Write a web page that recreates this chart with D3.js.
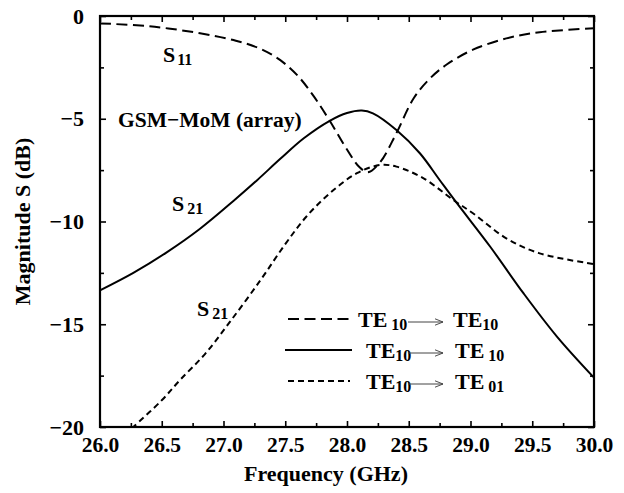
<!DOCTYPE html>
<html><head><meta charset="utf-8">
<script src="https://cdn.jsdelivr.net/npm/d3@7"></script>
<style>
html,body{margin:0;padding:0;background:#fff;}
text{font-family:"Liberation Serif","Times New Roman",serif;font-weight:bold;fill:#000;}
</style></head>
<body><svg id="c" width="624" height="493"></svg>
<script>
// ---- data ----
const s11Freq = [26.0, 26.4, 26.81, 27.1, 27.3, 27.46, 27.6, 27.73, 27.86, 28.0, 28.1, 28.17, 28.27, 28.4, 28.54, 28.67, 28.81, 29.02, 29.29, 29.56, 30.0];
const s11Val  = [-0.36, -0.5, -0.84, -1.2, -1.6, -2.15, -2.9, -3.9, -5.1, -6.5, -7.35, -7.6, -7.1, -5.7, -4.0, -3.05, -2.35, -1.64, -1.09, -0.79, -0.6];

const s21Freq = [26.0, 26.27, 26.54, 26.81, 27.08, 27.27, 27.46, 27.65, 27.86, 28.0, 28.12, 28.21, 28.4, 28.59, 28.75, 28.89, 29.16, 29.43, 29.7, 30.0];
const s21Val  = [-13.35, -12.5, -11.5, -10.35, -9.0, -8.0, -6.95, -5.95, -5.1, -4.72, -4.6, -4.74, -5.55, -6.68, -7.98, -9.11, -11.23, -13.5, -15.6, -17.6];

const s21xFreq = [26.2, 26.27, 26.5, 26.65, 26.85, 27.05, 27.3, 27.5, 27.67, 27.86, 28.08, 28.27, 28.4, 28.62, 28.86, 29.02, 29.29, 29.56, 30.0];
const s21xVal  = [-20.4, -20.0, -18.7, -17.7, -16.45, -14.9, -12.85, -11.1, -9.77, -8.63, -7.65, -7.25, -7.33, -7.9, -8.95, -9.6, -10.82, -11.55, -12.07];

const xTicks = [26.0, 26.5, 27.0, 27.5, 28.0, 28.5, 29.0, 29.5, 30.0];
const xMinor = [26.25, 26.75, 27.25, 27.75, 28.25, 28.75, 29.25, 29.75];
const yTicks = [0, -5, -10, -15, -20];
const yMinor = [-2.5, -7.5, -12.5, -17.5];

// ---- layout ----
const L = 100, R = 594, T = 16, B = 427;
const svg = d3.select("#c");
const x = d3.scaleLinear().domain([26, 30]).range([L, R]);
const y = d3.scaleLinear().domain([-20, 0]).range([B, T]);

svg.append("clipPath").attr("id","clip").append("rect")
  .attr("x", L).attr("y", T).attr("width", R-L).attr("height", B-T);

const fmtX = d3.format(".1f");
const fmtY = d => d === 0 ? "0" : "\u2212" + Math.abs(d);

function axisGroup(axis, tx, ty) {
  const g = svg.append("g").attr("transform", `translate(${tx},${ty})`).call(axis);
  g.select(".domain").remove();
  g.selectAll("line").attr("stroke", "#000").attr("stroke-width", 1.6);
  return g;
}
const gb = axisGroup(d3.axisBottom(x).tickValues(xTicks).tickSize(-6).tickPadding(10).tickFormat(fmtX), 0, B);
gb.selectAll("text").attr("font-size", 21.5).attr("dy", "0.71em");
axisGroup(d3.axisBottom(x).tickValues(xMinor).tickSize(-4).tickFormat(""), 0, B);
axisGroup(d3.axisTop(x).tickValues(xTicks).tickSize(-6).tickFormat(""), 0, T);
axisGroup(d3.axisTop(x).tickValues(xMinor).tickSize(-4).tickFormat(""), 0, T);
const gl = axisGroup(d3.axisLeft(y).tickValues(yTicks).tickSize(-6).tickPadding(16).tickFormat(fmtY), L, 0);
gl.selectAll("text").attr("font-size", 22);
axisGroup(d3.axisLeft(y).tickValues(yMinor).tickSize(-4).tickFormat(""), L, 0);
axisGroup(d3.axisRight(y).tickValues(yTicks).tickSize(-6).tickFormat(""), R, 0);
axisGroup(d3.axisRight(y).tickValues(yMinor).tickSize(-4).tickFormat(""), R, 0);

svg.append("rect").attr("x", L).attr("y", T).attr("width", R-L).attr("height", B-T)
  .attr("fill", "none").attr("stroke", "#000").attr("stroke-width", 2.2);

// curves
const line = d3.line().x(d => x(d[0])).y(d => y(d[1])).curve(d3.curveCatmullRom.alpha(0.5));
const plotG = svg.append("g").attr("clip-path", "url(#clip)");
plotG.append("path").datum(d3.zip(s11Freq, s11Val)).attr("d", line)
  .attr("fill","none").attr("stroke","#000").attr("stroke-width",2).attr("stroke-dasharray","11,5.5");
plotG.append("path").datum(d3.zip(s21Freq, s21Val)).attr("d", line)
  .attr("fill","none").attr("stroke","#000").attr("stroke-width",2);
plotG.append("path").datum(d3.zip(s21xFreq, s21xVal)).attr("d", line)
  .attr("fill","none").attr("stroke","#000").attr("stroke-width",2).attr("stroke-dasharray","6,4");

function subLabel(px, py, main, sub, gap) {
  const t = svg.append("text").attr("x", px).attr("y", py).attr("font-size", 22);
  t.append("tspan").text(main);
  t.append("tspan").attr("font-size", 16).attr("dy", 3).attr("dx", gap || 0).text(sub);
  return t;
}
subLabel(163, 62, "S", "11", 2);
subLabel(172, 211, "S", "21", 3);
subLabel(197, 316, "S", "21", 3);
svg.append("text").attr("x", 118).attr("y", 127).attr("font-size", 21.5).text("GSM\u2212MoM (array)");

svg.append("text").attr("x", 326).attr("y", 481).attr("text-anchor","middle").attr("font-size", 22).text("Frequency (GHz)");
svg.append("text").attr("transform", `translate(30,${(T+B)/2}) rotate(-90)`).attr("text-anchor","middle").attr("font-size", 22).text("Magnitude S (dB)");

// legend
const legend = [
  {y: 319, dash: "11,5.5", x0: 288, x1: 350, t1x: 358, g1: 4, t2x: 453, g2: 0, s2: "10"},
  {y: 350, dash: null,     x0: 285, x1: 352, t1x: 366, g1: 0, t2x: 455, g2: 4, s2: "10"},
  {y: 381, dash: "6,4",    x0: 288, x1: 350, t1x: 366, g1: 0, t2x: 455, g2: 4, s2: "01"}
];
svg.append("defs").append("marker").attr("id","arr").attr("viewBox","0 0 10 10")
  .attr("refX", 10).attr("refY", 5).attr("markerWidth", 8).attr("markerHeight", 8)
  .attr("markerUnits","userSpaceOnUse").attr("orient","auto")
  .append("path").attr("d","M0,1 L10,5 L0,9").attr("fill","none").attr("stroke","#444").attr("stroke-width",1.2);
legend.forEach(r => {
  const ln = svg.append("line").attr("x1", r.x0).attr("x2", r.x1).attr("y1", r.y).attr("y2", r.y)
    .attr("stroke","#000").attr("stroke-width",2);
  if (r.dash) ln.attr("stroke-dasharray", r.dash);
  subLabel(r.t1x, r.y + 8, "TE", "10", r.g1);
  svg.append("line").attr("x1", 408).attr("x2", 443).attr("y1", r.y + 3).attr("y2", r.y + 3)
    .attr("stroke","#444").attr("stroke-width",1).attr("marker-end","url(#arr)");
  subLabel(r.t2x, r.y + 8, "TE", r.s2, r.g2);
});
</script></body></html>
